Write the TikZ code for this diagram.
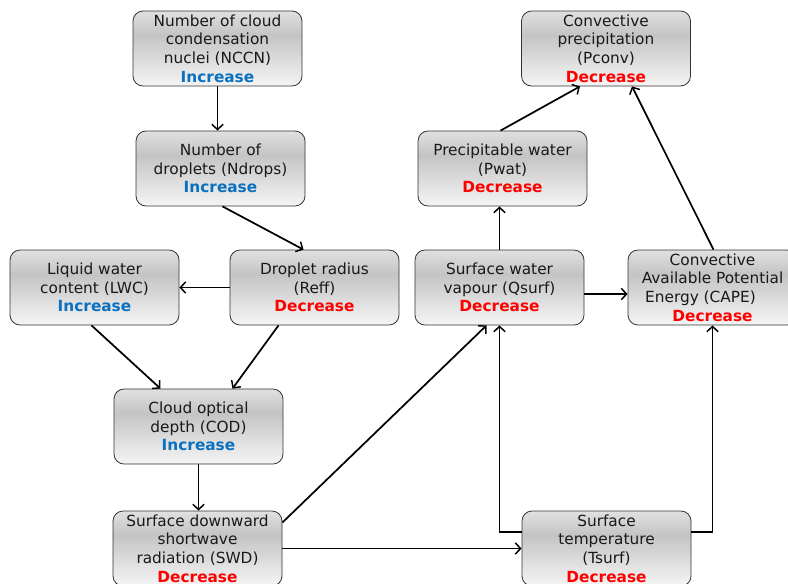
\documentclass[tikz,border=0pt]{standalone}
\usepackage{fontspec}
\setmainfont{DejaVu Sans}
\usetikzlibrary{arrows.meta,calc}
\definecolor{incblue}{RGB}{10,112,192}
\definecolor{decred}{RGB}{255,0,0}
\definecolor{shtop}{RGB}{224,224,224}
\definecolor{shmid}{RGB}{196,196,196}
\definecolor{shbot}{RGB}{245,245,245}
\pgfdeclareverticalshading{boxshade}{100bp}{color(0bp)=(shbot); color(25bp)=(shbot); color(59bp)=(shmid); color(75bp)=(shtop); color(100bp)=(shtop)}
\newcommand\lblInc{\textcolor{incblue}{\textbf{Increase}}}
\newcommand\lblDec{\textcolor{decred}{\textbf{Decrease}}}
\tikzset{
  box/.style={draw=black!80, line width=0.6pt, rounded corners=7.5pt, shading=boxshade,
    minimum width=126.75pt, minimum height=56.25pt, inner sep=0pt, align=center,
    text=black!90, font=\fontsize{11.5}{14}\selectfont},
  conn/.style={line width=1.3pt, -{Straight Barb[length=4pt,width=8.5pt,line width=1.1pt]}}
}
\begin{document}
\begin{tikzpicture}[x=0.75pt,y=-0.75pt]
\useasboundingbox (0,0) rectangle (788,583);
\node[box] (nccn) at (217.5,48.5) {Number of cloud\\condensation\\nuclei (NCCN)\\\lblInc};
\node[box] (ndrops) at (220.5,168.5) {Number of\\droplets (Ndrops)\\\lblInc};
\node[box] (lwc) at (94.5,287.5) {Liquid water\\content (LWC)\\\lblInc};
\node[box] (reff) at (314.5,287.5) {Droplet radius\\(Reff)\\\lblDec};
\node[box] (cod) at (198.5,426.5) {Cloud optical\\depth (COD)\\\lblInc};
\node[box] (swd) at (197.5,548.5) {Surface downward\\shortwave\\radiation (SWD)\\\lblDec};
\node[box] (pconv) at (606,48.5) {Convective\\precipitation\\(Pconv)\\\lblDec};
\node[box] (pwat) at (502.5,168.5) {Precipitable water\\(Pwat)\\\lblDec};
\node[box] (qsurf) at (499.5,287.5) {Surface water\\vapour (Qsurf)\\\lblDec};
\node[box] (cape) at (712.5,287.5) {Convective\\Available Potential\\Energy (CAPE)\makebox[18pt]{}\\\lblDec};
\node[box] (tsurf) at (606.5,548.5) {Surface\\temperature\\(Tsurf)\\\lblDec};

\draw[conn] (nccn.south) -- (nccn.south |- ndrops.north);
\draw[conn] ($(ndrops.south)+(2,0)$) -- ($(reff.north)+(-11,0)$);
\draw[conn] (reff.west) -- (lwc.east);
\draw[conn] ($(lwc.south)+(-3,0)$) -- ($(cod.north)+(-38,0)$);
\draw[conn] ($(reff.south)+(-36,0)$) -- ($(cod.north)+(34,0)$);
\draw[conn] (cod.south) -- (cod.south |- swd.north);
\draw[conn] ($(swd.east)+(0,-26)$) -- ($(qsurf.south)+(-13,0)$);
\draw[conn] (swd.east) -- (swd.east -| tsurf.west);
\coordinate (tw) at ($(tsurf.west)+(0,-16.5)$);
\coordinate (te) at ($(tsurf.east)+(0,-16.5)$);
\draw[conn] (tw) -| (qsurf.south);
\draw[conn] (te) -| (cape.south);
\draw[conn] (qsurf.north) -- (qsurf.north |- pwat.south);
\coordinate (qe) at ($(qsurf.east)+(0,6.5)$);
\draw[conn] (qe) -- (qe -| cape.west);
\draw[conn] ($(pwat.north)+(-2,0)$) -- ($(pconv.south)+(-26,0)$);
\draw[conn] ($(cape.north)+(1,0)$) -- ($(pconv.south)+(26,0)$);
\end{tikzpicture}
\end{document}
